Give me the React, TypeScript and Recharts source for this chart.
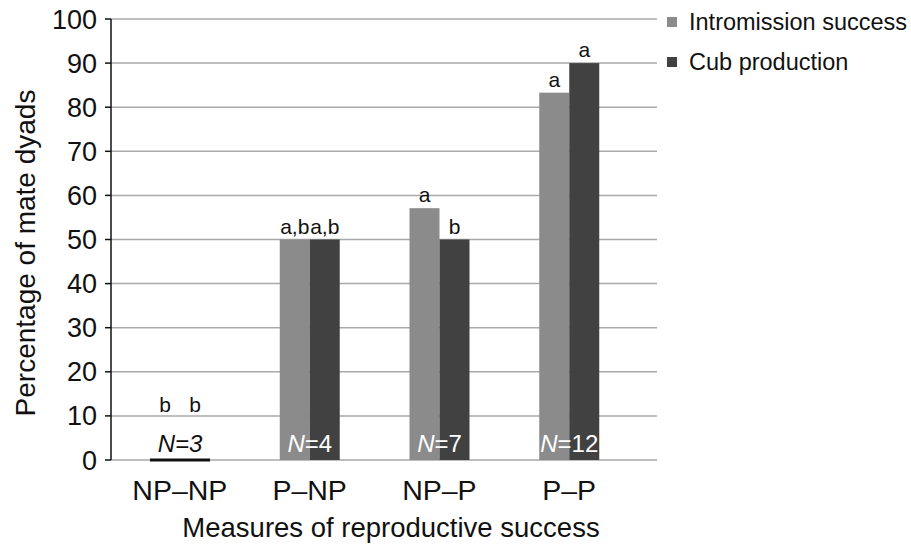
import { BarChart, Bar, XAxis, YAxis, CartesianGrid, Legend, LabelList, Label } from "recharts";

const FONT = '"Liberation Sans", Arial, Helvetica, sans-serif';

const categories = ["NP–NP", "P–NP", "NP–P", "P–P"];
const seriesNames = ["Intromission success", "Cub production"];
const intromission = [0, 50, 57.1, 83.3];
const cubProduction = [0, 50, 50, 90];
const intromissionLetters = ["b", "a,b", "a", "a"];
const cubLetters = ["b", "a,b", "b", "a"];
const dyadCounts = [3, 4, 7, 12];
const yTicks = [0, 10, 20, 30, 40, 50, 60, 70, 80, 90, 100];
const frameTicks = [0, 1, 2, 3, 4];

const LIGHT = "#8b8b8b";
const DARK = "#414141";

const data = categories.map((cat, i) => ({
  cat,
  intro: intromission[i],
  cub: cubProduction[i],
  introLetter: intromissionLetters[i],
  cubLetter: cubLetters[i],
  n: dyadCounts[i],
}));

// zero bars show up as a thick line on the axis
function BarShape(props: any) {
  const { x, y, width, height, fill } = props;
  if (!height || height < 0.5) {
    return <line x1={x} x2={x + width} y1={y} y2={y} stroke="#111" strokeWidth={3} />;
  }
  return <rect x={x} y={y} width={width} height={height} fill={fill} />;
}

function LetterLabel(props: any) {
  const { x, y, width, height, value } = props;
  // letters for the empty group sit above the 10% line
  const top = height < 0.5 ? y - 42 : y;
  return (
    <text x={x + width / 2} y={top - 6} textAnchor="middle" fontSize={21} fontFamily={FONT} fill="#111">
      {value}
    </text>
  );
}

function CountLabel(props: any) {
  const { x, y, height, value } = props;
  const empty = height < 0.5;
  return (
    <text
      x={x}
      y={y + height - 8}
      textAnchor="middle"
      fontSize={24}
      fontFamily={FONT}
      fill={empty ? "#111" : "#fff"}
      fontStyle={empty ? "italic" : "normal"}
    >
      <tspan fontStyle="italic">N</tspan>={value}
    </text>
  );
}

function CategoryTick(props: any) {
  const { x, y, payload } = props;
  return (
    <text x={x} y={y + 40} textAnchor="middle" fontSize={28.5} fontFamily={FONT} fill="#111">
      {payload.value}
    </text>
  );
}

function renderLegend(props: any) {
  const payload = [...(props.payload || [])].sort(
    (a: any, b: any) => seriesNames.indexOf(a.value) - seriesNames.indexOf(b.value)
  );
  return (
    <div style={{ fontFamily: FONT, fontSize: 23.5, color: "#111" }}>
      {payload.map((item: any) => (
        <div key={item.value} style={{ display: "flex", alignItems: "center", height: 40 }}>
          <span style={{ width: 10, height: 10, background: item.color, marginRight: 12 }} />
          {item.value}
        </div>
      ))}
    </div>
  );
}

export default function App() {
  return (
    <div style={{ width: 911, height: 545, background: "#fff" }}>
      <style>{`body{margin:0}`}</style>
      <BarChart
        width={911}
        height={545}
        data={data}
        margin={{ top: 19, right: 254, bottom: 0, left: 0 }}
        barGap={0}
        barSize={30}
      >
        <CartesianGrid xAxisId="cat" vertical={false} stroke="#a9a9a9" strokeWidth={1.5} />
        <XAxis
          xAxisId="frame"
          type="number"
          domain={[0, 4]}
          ticks={frameTicks}
          allowDataOverflow
          tick={false}
          tickSize={6}
          height={0}
          stroke="#111"
          strokeWidth={1.5}
        />
        <XAxis
          xAxisId="cat"
          dataKey="cat"
          axisLine={false}
          tickLine={false}
          tickSize={0}
          tickMargin={0}
          interval={0}
          height={85}
          padding={{ left: 4, right: 23 }}
          tick={<CategoryTick />}
        >
          <Label
            value="Measures of reproductive success"
            position="insideBottom"
            offset={8}
            dx={7}
            fontSize={27.5}
            fontFamily={FONT}
            fill="#111"
          />
        </XAxis>
        <YAxis
          domain={[0, 100]}
          ticks={yTicks}
          width={111}
          tickSize={6}
          tickMargin={8}
          stroke="#111"
          strokeWidth={1.5}
          tick={{ fontSize: 27, fontFamily: FONT, fill: "#111" }}
        >
          <Label
            content={() => (
              <text
                transform="translate(25,253) rotate(-90)"
                textAnchor="middle"
                dominantBaseline="central"
                fontSize={28}
                fontFamily={FONT}
                fill="#111"
              >
                Percentage of mate dyads
              </text>
            )}
          />
        </YAxis>
        <Legend
          layout="vertical"
          align="center"
          verticalAlign="middle"
          content={renderLegend}
          wrapperStyle={{ left: 667, top: 2, width: 244 }}
        />
        <Bar
          xAxisId="cat"
          dataKey="intro"
          name={seriesNames[0]}
          fill={LIGHT}
          shape={<BarShape />}
          isAnimationActive={false}
        >
          <LabelList dataKey="introLetter" content={<LetterLabel />} />
        </Bar>
        <Bar
          xAxisId="cat"
          dataKey="cub"
          name={seriesNames[1]}
          fill={DARK}
          shape={<BarShape />}
          isAnimationActive={false}
        >
          <LabelList dataKey="cubLetter" content={<LetterLabel />} />
          <LabelList dataKey="n" content={<CountLabel />} />
        </Bar>
      </BarChart>
    </div>
  );
}
